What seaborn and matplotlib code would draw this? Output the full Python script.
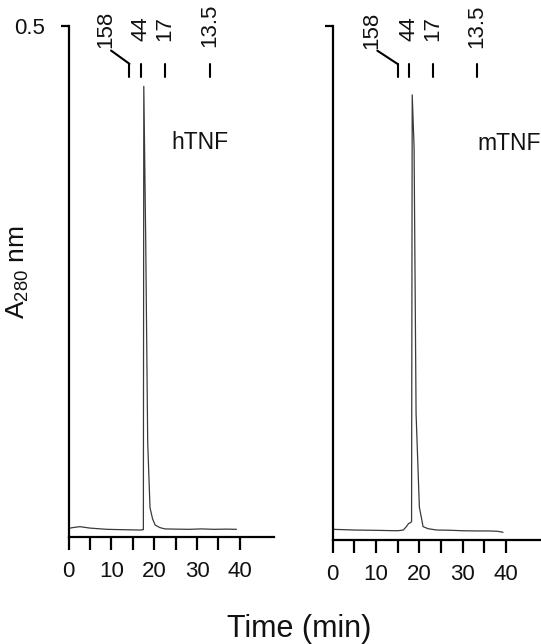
import matplotlib
matplotlib.use("Agg")
import matplotlib.pyplot as plt
import seaborn as sns
import pandas as pd

# ---- data ----
h_time = [0, 1.0, 2.6, 5, 8.9, 12, 16.7, 17.45, 17.55, 18.0, 18.46, 19.0, 19.6, 20.2,
          21.3, 22.5, 25, 28, 31, 34, 37, 39.2]
h_abs = [0.0088, 0.0095, 0.0104, 0.0090, 0.0078, 0.0075, 0.0071, 0.0075, 0.441, 0.289,
         0.093, 0.029, 0.018, 0.012, 0.0095, 0.0082, 0.0080, 0.0078, 0.0082, 0.0078,
         0.0080, 0.0078]

m_time = [0, 5, 10, 15, 16.3, 17.0, 17.5, 18.0, 18.2, 18.35, 18.78, 19.24, 20.0, 20.5,
          20.85, 22, 24, 27, 30, 33, 36, 38, 39.3]
m_abs = [0.0104, 0.0097, 0.0094, 0.0090, 0.0097, 0.013, 0.016, 0.017, 0.018, 0.433,
         0.382, 0.123, 0.032, 0.021, 0.013, 0.011, 0.0097, 0.0095, 0.0090, 0.0088,
         0.0088, 0.0085, 0.0075]

marker_labels = ["158", "44", "17", "13.5"]
h_marker_pos = [14.2, 17.0, 22.5, 33.0]
m_marker_pos = [15.0, 17.7, 23.1, 33.2]
h_label158_x = 8.6
m_label158_x = 9.0

panel_names = ["hTNF", "mTNF"]
x_ticks = [0, 5, 10, 15, 20, 25, 30, 35, 40]
x_ticklabels = ["0", "", "10", "", "20", "", "30", "", "40"]

sns.set_theme(style="ticks")
plt.rcParams["font.family"] = ["Liberation Sans", "DejaVu Sans"]
plt.rcParams["mathtext.default"] = "regular"

fig = plt.figure(figsize=(5.41, 6.44), dpi=100)
W, H = 541, 644

ax1 = fig.add_axes([68.7 / W, (H - 537.3) / H, 205.4 / W, (537.3 - 26) / H])
ax2 = fig.add_axes([332.7 / W, (H - 540) / H, 208 / W, (540 - 26) / H])

traces = [(ax1, h_time, h_abs, h_marker_pos, h_label158_x, panel_names[0], 23.9),
          (ax2, m_time, m_abs, m_marker_pos, m_label158_x, panel_names[1], 33.3)]

for i, (ax, t, a, mpos, lab158x, name, name_x) in enumerate(traces):
    df = pd.DataFrame({"Time": t, "A": a})
    sns.lineplot(data=df, x="Time", y="A", ax=ax, color="#3a3a3a", lw=0.9,
                 estimator=None, sort=False)
    ax.set_xlim(0, 48)
    ax.set_ylim(0, 0.5)
    sns.despine(ax=ax)
    for s in ["left", "bottom"]:
        ax.spines[s].set_linewidth(1.6)
        ax.spines[s].set_color("black")
    ax.set_xticks(x_ticks)
    ax.set_xticklabels(x_ticklabels)
    ax.set_yticks([0.5])
    ax.set_yticklabels(["0.5"] if i == 0 else [""])
    ax.tick_params(axis="x", direction="out", length=9, width=1.6, pad=8,
                   labelsize=16, color="black", labelcolor="#111")
    ax.tick_params(axis="y", direction="out", length=6, width=1.6, pad=11,
                   labelsize=16, color="black", labelcolor="#111")
    ax.set_xlabel("")
    ax.set_ylabel("")

    # molecular weight markers
    y_lo, y_hi = 0.450, 0.463
    for lab, xp in zip(marker_labels, mpos):
        ax.plot([xp, xp], [y_lo, y_hi], color="black", lw=1.5, clip_on=False)
        if lab == "158":
            ax.plot([lab158x + 1.3, xp], [0.476, y_hi], color="black", lw=1.5,
                    clip_on=False)
            ax.text(lab158x, 0.478, lab, rotation=90, ha="center", va="bottom",
                    fontsize=16, color="#111", clip_on=False)
        else:
            yb = 0.479 if lab == "13.5" else 0.485
            ax.text(xp, yb, lab, rotation=90, ha="center", va="bottom",
                    fontsize=16, color="#111", clip_on=False)

    ax.text(name_x, 0.386, name, ha="left", va="center", fontsize=16.5, color="#111")

fig.text(18 / W, 1 - 272 / H, "A$_{280}$ nm", rotation=90, ha="center",
         va="center", fontsize=19, color="#111")
fig.text(299 / W, 1 - 629 / H, "Time (min)", ha="center", va="center",
         fontsize=22, color="#111")

fig.savefig("out.png", dpi=100)
